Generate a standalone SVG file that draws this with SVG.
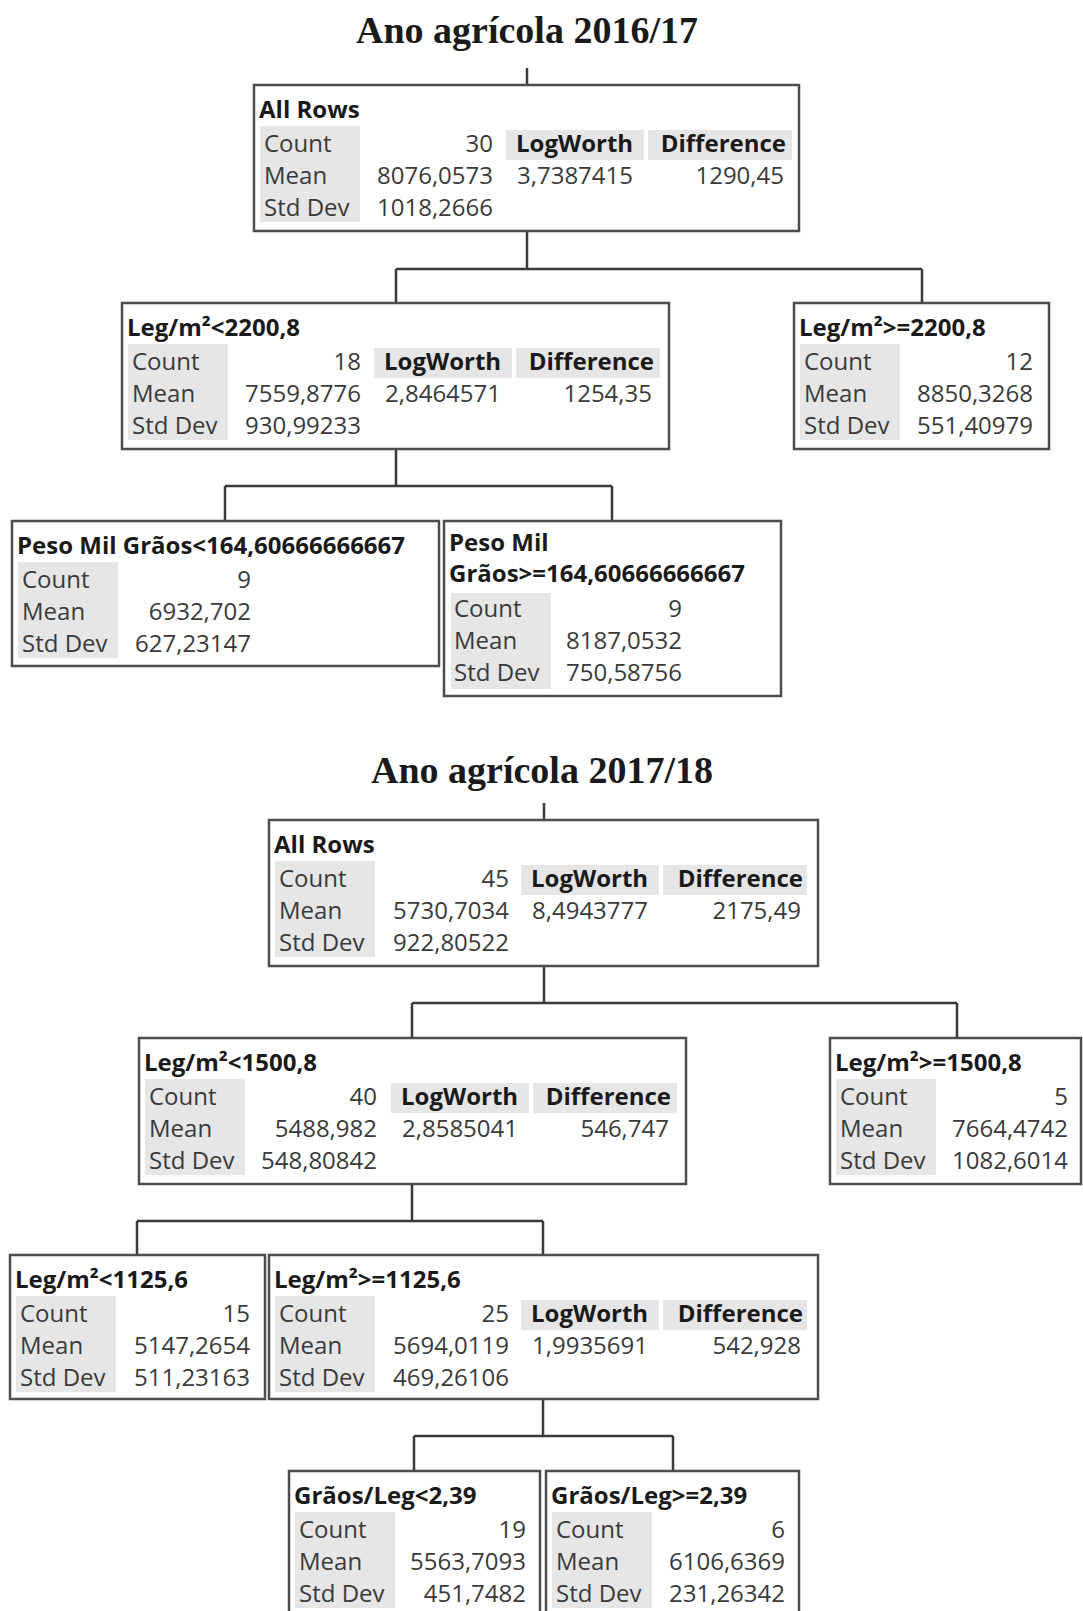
<svg xmlns="http://www.w3.org/2000/svg" width="1083" height="1611" viewBox="0 0 1083 1611">
<style>
.bg{fill:#ffffff}
.box{fill:#ffffff;stroke:#4d4d4d;stroke-width:2.5}
.gr{fill:#e6e6e6}
.title{font-family:"Liberation Serif","Times New Roman",serif;font-weight:bold;font-size:38px;fill:#1a1a1a;text-anchor:middle}
.h{font-family:"Open Sans","Noto Sans",sans-serif;font-weight:bold;font-size:24px;fill:#1a1a1a}
.l{font-family:"Open Sans","Noto Sans",sans-serif;font-size:24px;fill:#3a3a3a}
.v{font-family:"Open Sans","Noto Sans",sans-serif;font-size:24px;fill:#3a3a3a;text-anchor:end}
.hv{font-family:"Open Sans","Noto Sans",sans-serif;font-weight:bold;font-size:24px;fill:#1a1a1a;text-anchor:end}
.c{fill:none;stroke:#3a3a3a;stroke-width:2.5}
</style>
<rect class="bg" x="0" y="0" width="1083" height="1611"/>

<text id="title1" class="title" x="527" y="43">Ano agrícola 2016/17</text>
<text id="title2" class="title" x="542" y="783">Ano agrícola 2017/18</text>

<g id="connectors">
<path class="c" d="M527 68V85"/>
<path class="c" d="M527 231V269M396 269H922M396 269V303M922 269V303"/>
<path class="c" d="M396 449V486M225 486H612M225 486V521M612 486V521"/>
<path class="c" d="M544 803V820"/>
<path class="c" d="M544 966V1003M412 1003H957M412 1003V1038M957 1003V1038"/>
<path class="c" d="M412 1184V1221M137 1221H543M137 1221V1255M543 1221V1255"/>
<path class="c" d="M543 1399V1436M414 1436H673M414 1436V1471M673 1436V1471"/>
</g>

<!-- Tree 1 -->
<g id="n1" transform="translate(254,85)">
<rect class="box" x="0" y="0" width="545" height="146"/>
<rect class="gr" x="6" y="41" width="100" height="96"/>
<rect class="gr" x="252" y="45" width="138" height="30"/>
<rect class="gr" x="394" y="45" width="144" height="30"/>
<text class="h" x="5" y="33">All Rows</text>
<text class="l" x="10" y="67">Count</text><text class="v" x="239" y="67">30</text>
<text class="l" x="10" y="99">Mean</text><text class="v" x="239" y="99">8076,0573</text>
<text class="l" x="10" y="131">Std Dev</text><text class="v" x="239" y="131">1018,2666</text>
<text class="h" x="262" y="67">LogWorth</text><text class="hv" x="532" y="67">Difference</text>
<text class="l" x="263" y="99">3,7387415</text><text class="v" x="530" y="99">1290,45</text>
</g>

<g id="n2" transform="translate(122,303)">
<rect class="box" x="0" y="0" width="547" height="146"/>
<rect class="gr" x="6" y="41" width="100" height="96"/>
<rect class="gr" x="252" y="45" width="138" height="30"/>
<rect class="gr" x="394" y="45" width="144" height="30"/>
<text class="h" x="5" y="33">Leg/m²&lt;2200,8</text>
<text class="l" x="10" y="67">Count</text><text class="v" x="239" y="67">18</text>
<text class="l" x="10" y="99">Mean</text><text class="v" x="239" y="99">7559,8776</text>
<text class="l" x="10" y="131">Std Dev</text><text class="v" x="239" y="131">930,99233</text>
<text class="h" x="262" y="67">LogWorth</text><text class="hv" x="532" y="67">Difference</text>
<text class="l" x="263" y="99">2,8464571</text><text class="v" x="530" y="99">1254,35</text>
</g>

<g id="n3" transform="translate(794,303)">
<rect class="box" x="0" y="0" width="255" height="146"/>
<rect class="gr" x="6" y="41" width="100" height="96"/>
<text class="h" x="5" y="33">Leg/m²&gt;=2200,8</text>
<text class="l" x="10" y="67">Count</text><text class="v" x="239" y="67">12</text>
<text class="l" x="10" y="99">Mean</text><text class="v" x="239" y="99">8850,3268</text>
<text class="l" x="10" y="131">Std Dev</text><text class="v" x="239" y="131">551,40979</text>
</g>

<g id="n4" transform="translate(12,521)">
<rect class="box" x="0" y="0" width="427" height="145"/>
<rect class="gr" x="6" y="41" width="100" height="96"/>
<text class="h" x="5" y="33">Peso Mil Grãos&lt;164,60666666667</text>
<text class="l" x="10" y="67">Count</text><text class="v" x="239" y="67">9</text>
<text class="l" x="10" y="99">Mean</text><text class="v" x="239" y="99">6932,702</text>
<text class="l" x="10" y="131">Std Dev</text><text class="v" x="239" y="131">627,23147</text>
</g>

<g id="n5" transform="translate(444,521)">
<rect class="box" x="0" y="0" width="337" height="175"/>
<rect class="gr" x="7" y="72" width="100" height="96"/>
<text class="h" x="5" y="30">Peso Mil</text>
<text class="h" x="5" y="61">Grãos&gt;=164,60666666667</text>
<text class="l" x="10" y="96">Count</text><text class="v" x="238" y="96">9</text>
<text class="l" x="10" y="128">Mean</text><text class="v" x="238" y="128">8187,0532</text>
<text class="l" x="10" y="160">Std Dev</text><text class="v" x="238" y="160">750,58756</text>
</g>

<!-- Tree 2 -->
<g id="n6" transform="translate(269,820)">
<rect class="box" x="0" y="0" width="549" height="146"/>
<rect class="gr" x="6" y="41" width="100" height="96"/>
<rect class="gr" x="252" y="45" width="138" height="30"/>
<rect class="gr" x="394" y="45" width="144" height="30"/>
<text class="h" x="5" y="33">All Rows</text>
<text class="l" x="10" y="67">Count</text><text class="v" x="240" y="67">45</text>
<text class="l" x="10" y="99">Mean</text><text class="v" x="240" y="99">5730,7034</text>
<text class="l" x="10" y="131">Std Dev</text><text class="v" x="240" y="131">922,80522</text>
<text class="h" x="262" y="67">LogWorth</text><text class="hv" x="534" y="67">Difference</text>
<text class="l" x="263" y="99">8,4943777</text><text class="v" x="532" y="99">2175,49</text>
</g>

<g id="n7" transform="translate(139,1038)">
<rect class="box" x="0" y="0" width="547" height="146"/>
<rect class="gr" x="6" y="41" width="100" height="96"/>
<rect class="gr" x="252" y="45" width="138" height="30"/>
<rect class="gr" x="394" y="45" width="144" height="30"/>
<text class="h" x="5" y="33">Leg/m²&lt;1500,8</text>
<text class="l" x="10" y="67">Count</text><text class="v" x="238" y="67">40</text>
<text class="l" x="10" y="99">Mean</text><text class="v" x="238" y="99">5488,982</text>
<text class="l" x="10" y="131">Std Dev</text><text class="v" x="238" y="131">548,80842</text>
<text class="h" x="262" y="67">LogWorth</text><text class="hv" x="532" y="67">Difference</text>
<text class="l" x="263" y="99">2,8585041</text><text class="v" x="530" y="99">546,747</text>
</g>

<g id="n8" transform="translate(830,1038)">
<rect class="box" x="0" y="0" width="251" height="146"/>
<rect class="gr" x="6" y="41" width="100" height="96"/>
<text class="h" x="5" y="33">Leg/m²&gt;=1500,8</text>
<text class="l" x="10" y="67">Count</text><text class="v" x="238" y="67">5</text>
<text class="l" x="10" y="99">Mean</text><text class="v" x="238" y="99">7664,4742</text>
<text class="l" x="10" y="131">Std Dev</text><text class="v" x="238" y="131">1082,6014</text>
</g>

<g id="n9" transform="translate(10,1255)">
<rect class="box" x="0" y="0" width="255" height="144"/>
<rect class="gr" x="6" y="41" width="100" height="96"/>
<text class="h" x="5" y="33">Leg/m²&lt;1125,6</text>
<text class="l" x="10" y="67">Count</text><text class="v" x="240" y="67">15</text>
<text class="l" x="10" y="99">Mean</text><text class="v" x="240" y="99">5147,2654</text>
<text class="l" x="10" y="131">Std Dev</text><text class="v" x="240" y="131">511,23163</text>
</g>

<g id="n10" transform="translate(269,1255)">
<rect class="box" x="0" y="0" width="549" height="144"/>
<rect class="gr" x="6" y="41" width="100" height="96"/>
<rect class="gr" x="252" y="45" width="138" height="30"/>
<rect class="gr" x="394" y="45" width="144" height="30"/>
<text class="h" x="5" y="33">Leg/m²&gt;=1125,6</text>
<text class="l" x="10" y="67">Count</text><text class="v" x="240" y="67">25</text>
<text class="l" x="10" y="99">Mean</text><text class="v" x="240" y="99">5694,0119</text>
<text class="l" x="10" y="131">Std Dev</text><text class="v" x="240" y="131">469,26106</text>
<text class="h" x="262" y="67">LogWorth</text><text class="hv" x="534" y="67">Difference</text>
<text class="l" x="263" y="99">1,9935691</text><text class="v" x="532" y="99">542,928</text>
</g>

<g id="n11" transform="translate(289,1471)">
<rect class="box" x="0" y="0" width="251" height="150"/>
<rect class="gr" x="6" y="41" width="100" height="96"/>
<text class="h" x="5" y="33">Grãos/Leg&lt;2,39</text>
<text class="l" x="10" y="67">Count</text><text class="v" x="237" y="67">19</text>
<text class="l" x="10" y="99">Mean</text><text class="v" x="237" y="99">5563,7093</text>
<text class="l" x="10" y="131">Std Dev</text><text class="v" x="237" y="131">451,7482</text>
</g>

<g id="n12" transform="translate(546,1471)">
<rect class="box" x="0" y="0" width="253" height="150"/>
<rect class="gr" x="6" y="41" width="100" height="96"/>
<text class="h" x="5" y="33">Grãos/Leg&gt;=2,39</text>
<text class="l" x="10" y="67">Count</text><text class="v" x="239" y="67">6</text>
<text class="l" x="10" y="99">Mean</text><text class="v" x="239" y="99">6106,6369</text>
<text class="l" x="10" y="131">Std Dev</text><text class="v" x="239" y="131">231,26342</text>
</g>
</svg>
